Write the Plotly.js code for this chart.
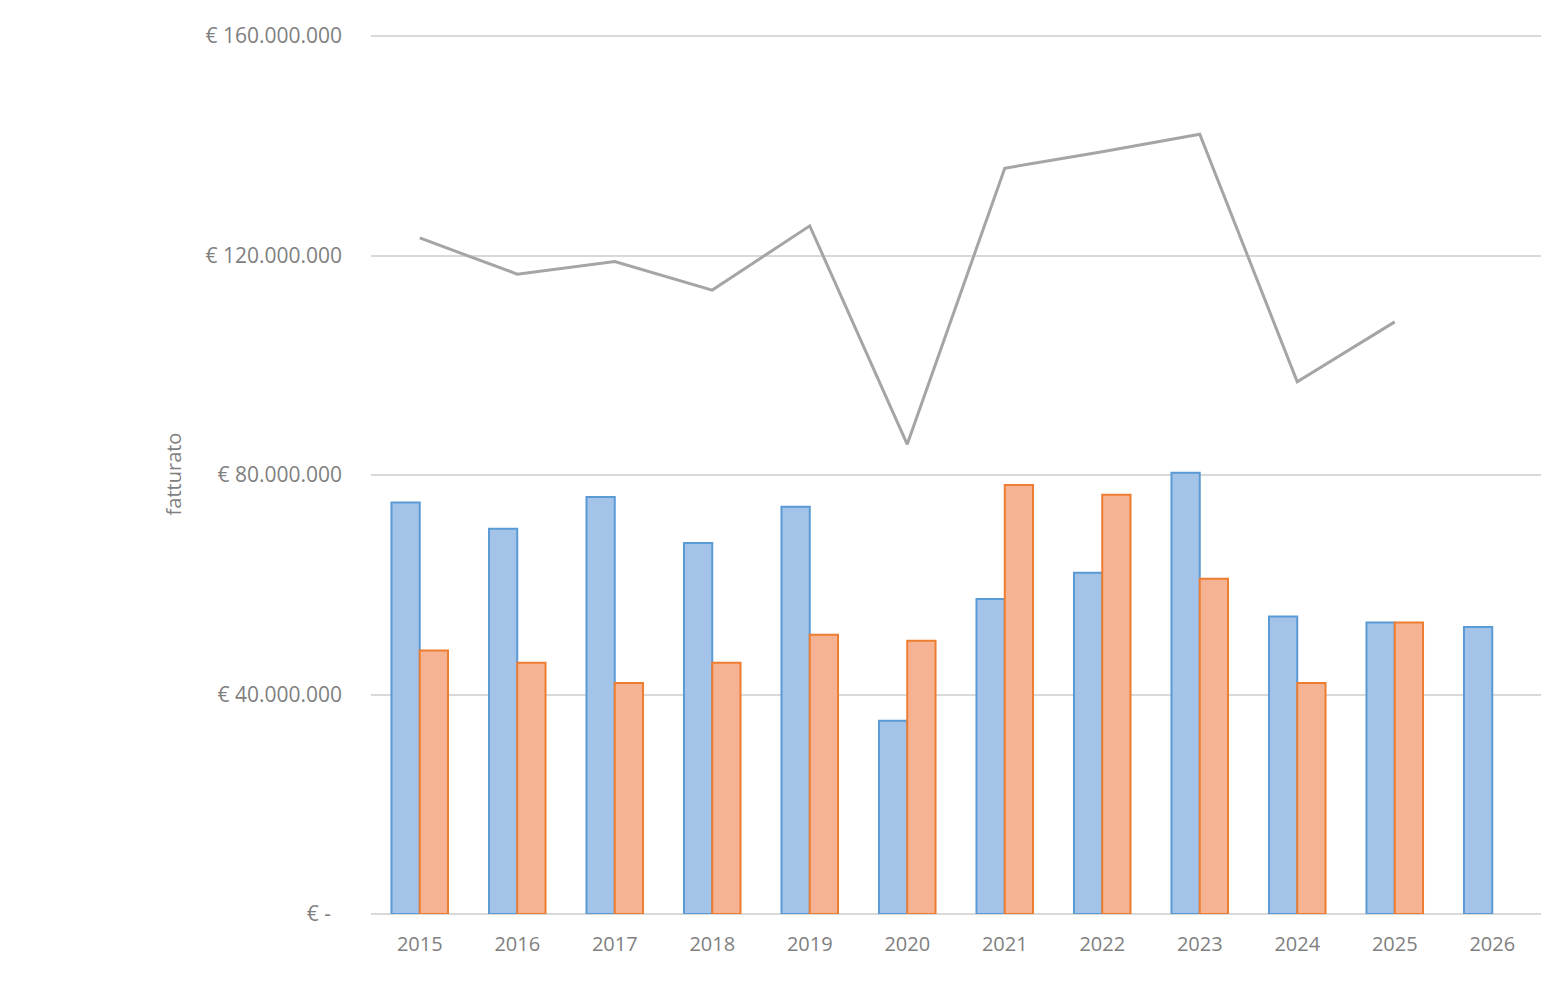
<!DOCTYPE html>
<html>
<head>
<meta charset="utf-8">
<script src="https://cdn.plot.ly/plotly-3.0.1.min.js"></script>
<style>
    html, body { margin: 0; padding: 0; background: #ffffff; }
    #chart { width: 1544px; height: 982px; }
</style>
</head>
<body>
<div id="chart"></div>
<script>
// anni e valori (in euro)
const years = ['2015', '2016', '2017', '2018', '2019', '2020', '2021', '2022', '2023', '2024', '2025', '2026'];
const seriesBlue = [75.0e6, 70.2e6, 76.0e6, 67.6e6, 74.2e6, 35.2e6, 57.4e6, 62.2e6, 80.4e6, 54.2e6, 53.1e6, 52.3e6];
const seriesOrange = [48.0e6, 45.8e6, 42.1e6, 45.8e6, 50.9e6, 49.8e6, 78.2e6, 76.4e6, 61.1e6, 42.1e6, 53.1e6, null];
const seriesTotal = [123.2e6, 116.6e6, 118.9e6, 113.7e6, 125.4e6, 85.6e6, 135.9e6, 138.9e6, 142.1e6, 97.0e6, 107.9e6, null];
const yTickVals = [0, 40e6, 80e6, 120e6, 160e6];
const yTickText = ['€ -\u00a0\u00a0', '€ 40.000.000', '€ 80.000.000', '€ 120.000.000', '€ 160.000.000'];

const colors = {
    text: '#7f7f7f',
    grid: '#d9d9d9',
    blueFill: '#a3c3e8',
    blueLine: '#5b9bd5',
    orangeFill: '#f6b393',
    orangeLine: '#ed7d31',
    total: '#a5a5a5',
};

// a little headroom above 160M so its gridline is still drawn
const yMax = 160e6 * 880 / 878;

const traces = [
    {
        x: years,
        y: seriesBlue,
        type: 'bar',
        marker: {color: colors.blueFill, line: {color: colors.blueLine, width: 2}},
        hovertemplate: '%{x}<br>€ %{y:,.0f}<extra></extra>',
    },
    {
        x: years,
        y: seriesOrange,
        type: 'bar',
        marker: {color: colors.orangeFill, line: {color: colors.orangeLine, width: 2}},
        hovertemplate: '%{x}<br>€ %{y:,.0f}<extra></extra>',
    },
    {
        x: years,
        y: seriesTotal,
        type: 'scatter',
        mode: 'lines',
        line: {color: colors.total, width: 3},
        connectgaps: false,
        hovertemplate: '%{x}<br>€ %{y:,.0f}<extra></extra>',
    },
];

const layout = {
    width: 1544,
    height: 982,
    margin: {l: 371, r: 3, t: 34, b: 68},
    paper_bgcolor: '#ffffff',
    plot_bgcolor: '#ffffff',
    font: {family: '"Open Sans", sans-serif', size: 20, color: colors.text},
    barmode: 'group',
    bargap: 0.42,
    bargroupgap: 0,
    showlegend: false,
    xaxis: {
        type: 'category',
        showgrid: false,
        showline: false,
        zeroline: false,
        ticks: '',
        ticklabelstandoff: 16,
        tickfont: {size: 20, color: colors.text},
    },
    yaxis: {
        range: [0, yMax],
        tickvals: yTickVals,
        ticktext: yTickText,
        showgrid: true,
        gridcolor: colors.grid,
        gridwidth: 2,
        zeroline: true,
        zerolinecolor: colors.grid,
        zerolinewidth: 2,
        showline: false,
        ticks: '',
        ticklabelstandoff: 28,
        tickfont: {size: 21, color: colors.text},
        title: {text: 'fatturato', font: {size: 20, color: colors.text}, standoff: 18},
    },
};

Plotly.newPlot('chart', traces, layout, {displayModeBar: false, staticPlot: true});
</script>
</body>
</html>
